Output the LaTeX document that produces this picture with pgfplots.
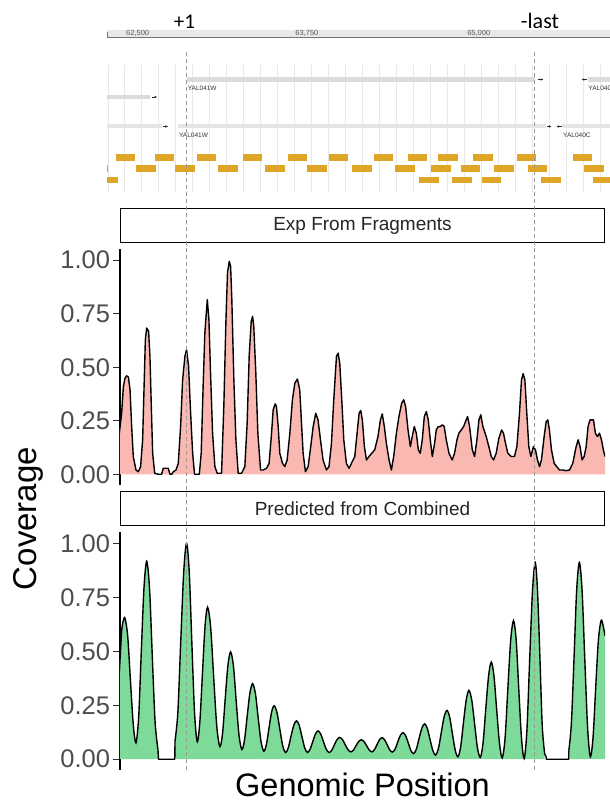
\documentclass[border=0pt]{standalone}
\usepackage{fontspec}
\setmainfont{Liberation Sans}
\newfontfamily\calibri{Carlito}
\usepackage{pgfplots}
\pgfplotsset{compat=1.18}
\usepackage{pgfplotstable}
\usetikzlibrary{arrows.meta}

\definecolor{pinkfill}{RGB}{250,184,179}
\definecolor{greenfill}{RGB}{125,218,152}
\definecolor{gold}{RGB}{222,165,38}
\definecolor{tickgray}{RGB}{77,77,77}

\pgfplotstableread{
x y
62335 0.192
62352 0.285
62365 0.410
62377 0.449
62389 0.460
62402 0.454
62414 0.395
62426 0.223
62438 0.083
62458 0.020
62475 0.012
62492 0.036
62507 0.161
62517 0.395
62527 0.629
62537 0.683
62551 0.668
62561 0.551
62571 0.317
62581 0.098
62596 0.005
62623 0.000
62647 0.000
62659 0.028
62696 0.028
62709 0.000
62721 0.000
62733 0.012
62753 0.020
62770 0.051
62787 0.223
62802 0.441
62819 0.551
62831 0.582
62846 0.504
62861 0.285
62876 0.098
62890 0.000
62910 0.000
62925 0.000
62939 0.098
62954 0.426
62966 0.660
62984 0.816
62996 0.722
63008 0.473
63023 0.192
63040 0.036
63057 0.005
63089 0.005
63106 0.317
63121 0.707
63133 0.941
63146 0.995
63156 0.972
63165 0.816
63180 0.441
63195 0.161
63212 0.005
63237 0.005
63261 0.036
63278 0.239
63293 0.551
63308 0.714
63318 0.738
63327 0.691
63342 0.473
63357 0.192
63377 0.020
63396 0.020
63421 0.028
63440 0.051
63458 0.192
63470 0.301
63485 0.329
63494 0.317
63507 0.223
63519 0.098
63539 0.051
63556 0.036
63573 0.067
63593 0.192
63612 0.348
63630 0.426
63649 0.445
63666 0.395
63679 0.239
63691 0.098
63708 0.012
63728 0.036
63747 0.129
63765 0.223
63784 0.285
63801 0.254
63819 0.161
63838 0.067
63863 0.020
63882 0.036
63900 0.145
63917 0.348
63937 0.551
63949 0.566
63961 0.520
63976 0.348
63991 0.161
64010 0.051
64030 0.028
64047 0.051
64072 0.083
64089 0.192
64104 0.285
64116 0.298
64128 0.254
64143 0.129
64158 0.067
64177 0.083
64197 0.098
64219 0.114
64243 0.176
64261 0.254
64275 0.282
64290 0.223
64305 0.145
64325 0.067
64342 0.020
64359 0.083
64379 0.192
64398 0.270
64418 0.332
64433 0.348
64447 0.317
64465 0.207
64482 0.129
64496 0.176
64511 0.223
64526 0.192
64541 0.114
64555 0.098
64570 0.161
64585 0.270
64600 0.293
64614 0.254
64629 0.161
64644 0.083
64661 0.145
64673 0.207
64688 0.223
64703 0.223
64718 0.231
64732 0.223
64747 0.161
64767 0.098
64791 0.067
64808 0.098
64826 0.161
64840 0.192
64858 0.207
64875 0.223
64889 0.246
64904 0.270
64919 0.223
64939 0.114
64956 0.083
64973 0.161
64988 0.254
65002 0.278
65017 0.223
65042 0.176
65061 0.129
65079 0.083
65096 0.067
65115 0.098
65135 0.168
65155 0.207
65169 0.192
65184 0.145
65201 0.098
65226 0.083
65250 0.083
65268 0.129
65287 0.285
65302 0.441
65314 0.470
65327 0.441
65341 0.285
65356 0.129
65371 0.083
65390 0.129
65405 0.114
65420 0.067
65435 0.036
65449 0.067
65469 0.176
65484 0.246
65496 0.254
65508 0.207
65523 0.114
65543 0.051
65562 0.036
65582 0.020
65607 0.020
65631 0.017
65656 0.020
65680 0.051
65705 0.129
65720 0.161
65734 0.129
65749 0.067
65764 0.083
65779 0.129
65793 0.223
65808 0.254
65833 0.254
65847 0.192
65862 0.176
65877 0.192
65892 0.161
65906 0.114
65918 0.083
}\pinkdata

\pgfplotstableread{
x y
62335 0.400
62352 0.590
62364 0.640
62377 0.653
62397 0.569
62417 0.365
62438 0.160
62458 0.076
62478 0.199
62497 0.497
62517 0.794
62537 0.917
62558 0.790
62578 0.481
62599 0.172
62620 0.045
}\greenA

\pgfplotstableread{
x y
62620 0.045
62624 0.000
62744 0.000
62746 0.085
}\flatA

\pgfplotstableread{
x y
62746 0.085
62767 0.219
62788 0.543
62810 0.866
62831 1.000
62851 0.866
62870 0.541
62890 0.215
62910 0.081
62929 0.172
62948 0.393
62967 0.613
62986 0.704
63009 0.610
63031 0.381
63054 0.152
63077 0.058
63097 0.122
63116 0.278
63136 0.433
63156 0.497
63177 0.431
63197 0.271
63218 0.111
63239 0.045
63259 0.090
63278 0.198
63298 0.305
63318 0.350
63339 0.304
63359 0.194
63380 0.083
63401 0.037
63420 0.068
63439 0.143
63458 0.217
63477 0.248
63498 0.216
63519 0.140
63540 0.063
63561 0.031
63581 0.052
63601 0.105
63622 0.157
63642 0.178
63662 0.157
63682 0.105
63703 0.052
63723 0.031
63742 0.046
63762 0.081
63781 0.116
63801 0.131
63821 0.116
63841 0.081
63862 0.046
63882 0.031
63902 0.041
63921 0.066
63941 0.091
63961 0.101
63981 0.091
64001 0.068
64022 0.044
64042 0.034
64062 0.042
64081 0.062
64101 0.082
64121 0.090
64140 0.082
64160 0.062
64179 0.042
64199 0.034
64217 0.044
64236 0.067
64254 0.090
64273 0.100
64292 0.090
64311 0.067
64330 0.043
64349 0.033
64369 0.046
64388 0.078
64408 0.110
64428 0.123
64447 0.109
64467 0.075
64486 0.040
64506 0.026
64526 0.046
64546 0.095
64567 0.144
64587 0.164
64607 0.143
64627 0.092
64648 0.040
64668 0.019
64689 0.049
64710 0.123
64731 0.196
64752 0.226
64772 0.195
64792 0.119
64813 0.042
64833 0.011
64853 0.056
64873 0.165
64894 0.274
64914 0.319
64935 0.274
64956 0.164
64977 0.053
64998 0.008
65018 0.073
65038 0.229
65059 0.385
65079 0.450
65099 0.385
65119 0.228
65140 0.071
65160 0.006
65181 0.099
65201 0.324
65222 0.549
65243 0.642
65263 0.549
65282 0.323
65302 0.096
65322 0.003
65342 0.136
65362 0.457
65383 0.778
65403 0.911
65420 0.782
65438 0.468
65455 0.154
65473 0.025
}\greenB

\pgfplotstableread{
x y
65473 0.025
65484 0.010
65485 0.000
65650 0.000
65651 0.040
}\flatB

\pgfplotstableread{
x y
65651 0.040
65670 0.167
65690 0.476
65709 0.784
65729 0.911
65749 0.780
65769 0.461
65790 0.142
65810 0.011
65830 0.103
65849 0.327
65869 0.550
65889 0.642
65904 0.620
65918 0.572
}\greenC

\pgfplotsset{
  panel/.style={
    scale only axis, width=485pt,
    xmin=62340, xmax=65918, ymin=-0.05, ymax=1.05,
    axis x line=none, axis y line*=left,
    axis line style={-, line width=1.3pt, black},
    xtick=\empty, ytick={0,0.25,0.5,0.75,1},
    scaled x ticks=false, scaled y ticks=false,
    /pgf/number format/assume math mode=true,
    yticklabel={\pgfmathprintnumber[fixed,fixed zerofill,precision=2]{\tick}},
    yticklabel style={font=\fontsize{25.5}{28}\selectfont, text=tickgray},
    tick align=outside, major tick length=6.5pt,
    ytick style={line width=1.1pt, draw=black!80},
    title style={at={(0.5,1)}, anchor=south, yshift=0pt, draw=black,
      line width=1.1pt, fill=white, minimum width=484pt, minimum height=34.5pt,
      inner sep=0pt, font=\fontsize{19}{22}\selectfont, text=black!85},
  },
  gene/.style={line width=5pt, color=black!14},
  fwd/.style={line width=0.5pt, black!85, -{Stealth[length=2.6pt,width=2.4pt]}},
}
\tikzset{lbl/.style={anchor=west, inner sep=0pt, font=\fontsize{6.5}{7}\selectfont, text=black!80}}

\begin{document}
\begin{tikzpicture}
\path[use as bounding box] (0,0) rectangle (610pt,804pt);

% ---------- genome browser track ----------
\begin{axis}[at={(107pt,612pt)}, anchor=south west, scale only axis,
  width=503pt, height=127pt, xmin=62244, xmax=65950, ymin=65, ymax=192,
  y dir=reverse, clip=false, axis line style={draw=none},
  scaled x ticks=false, scaled y ticks=false,
  ytick=\empty, xtick={62250,62375,...,65875}, xticklabels={},
  xtick style={draw=none}, xmajorgrids,
  major grid style={black!9, line width=0.6pt},
  extra x ticks={62500,63750,65000}, extra x tick labels={},
  extra x tick style={grid style={black!20, line width=0.7pt}},
  unbounded coords=jump]
% ruler
\addplot[line width=6.5pt, color=black!9] coordinates {(62244,33.5) (65950,33.5)};
\addplot[line width=0.8pt, color=black!55] coordinates {(62244,37.2) (65950,37.2)};
\addplot[line width=0.8pt, color=black!55] coordinates {(62247,32) (62247,37.2)};
\node[font=\fontsize{7.5}{8}\selectfont, text=black!65] at (axis cs:62470,33) {62,500};
\node[font=\fontsize{7.5}{8}\selectfont, text=black!65] at (axis cs:63717,33) {63,750};
\node[font=\fontsize{7.5}{8}\selectfont, text=black!65] at (axis cs:64983,33) {65,000};
\node[font=\calibri\fontsize{21}{24}\selectfont, anchor=base] at (axis cs:62815,28.3) {+1};
\node[font=\calibri\fontsize{22}{24}\selectfont, anchor=base] at (axis cs:65434,28.3) {-last};
% gene row 1
\addplot[gene] coordinates {(62835,79.5) (65400,79.5)};
\addplot[fwd] coordinates {(65418,79.5) (65458,79.5)};
\addplot[fwd] coordinates {(65782,79.5) (65742,79.5)};
\addplot[gene] coordinates {(65788,79.5) (65950,79.5)};
\node[lbl] at (axis cs:62838,88) {YAL041W};
\node[lbl] at (axis cs:65790,88) {YAL040C};
% gene row 2
\addplot[gene, line width=4.5pt] coordinates {(62244,97) (62561,97)};
\addplot[fwd] coordinates {(62576,97) (62612,97)};
% gene row 3
\addplot[gene, line width=4pt, color=black!10] coordinates {(62244,126.5) (62649,126.5)};
\addplot[fwd] coordinates {(62656,126.5) (62693,126.5)};
\addplot[gene, line width=4pt, color=black!10] coordinates {(62767,126.5) (65481,126.5)};
\addplot[fwd] coordinates {(65484,126.5) (65518,126.5)};
\addplot[fwd] coordinates {(65594,126.5) (65557,126.5)};
\addplot[gene, line width=4pt, color=black!10] coordinates {(65596,126.5) (65950,126.5)};
\node[lbl] at (axis cs:62774,135) {YAL041W};
\node[lbl] at (axis cs:65604,135) {YAL040C};
% fragments
\addplot[line width=6.7pt, color=gold] coordinates {
 (62308,157.7) (62450,157.7) (62450,nan)
 (62598,157.7) (62738,157.7) (62738,nan)
 (62905,157.7) (63047,157.7) (63047,nan)
 (63244,157.7) (63388,157.7) (63388,nan)
 (63575,157.7) (63720,157.7) (63720,nan)
 (63877,157.7) (64022,157.7) (64022,nan)
 (64211,157.7) (64353,157.7) (64353,nan)
 (64460,157.7) (64602,157.7) (64602,nan)
 (64685,157.7) (64832,157.7) (64832,nan)
 (64943,157.7) (65086,157.7) (65086,nan)
 (65263,157.7) (65405,157.7) (65405,nan)
 (65675,157.7) (65820,157.7)};
\addplot[line width=6.7pt, color=gold] coordinates {
 (62244,168.7) (62252,168.7) (62252,nan)
 (62455,168.7) (62603,168.7) (62603,nan)
 (62747,168.7) (62892,168.7) (62892,nan)
 (63064,168.7) (63211,168.7) (63211,nan)
 (63410,168.7) (63556,168.7) (63556,nan)
 (63720,168.7) (63867,168.7) (63867,nan)
 (64047,168.7) (64194,168.7) (64194,nan)
 (64368,168.7) (64513,168.7) (64513,nan)
 (64631,168.7) (64776,168.7) (64776,nan)
 (64850,168.7) (64992,168.7) (64992,nan)
 (65098,168.7) (65243,168.7) (65243,nan)
 (65344,168.7) (65484,168.7) (65484,nan)
 (65761,168.7) (65906,168.7)};
\addplot[line width=6.7pt, color=gold] coordinates {
 (62244,180) (62327,180) (62327,nan)
 (64543,180) (64688,180) (64688,nan)
 (64788,180) (64931,180) (64931,nan)
 (65005,180) (65147,180) (65147,nan)
 (65442,180) (65589,180) (65589,nan)
 (65823,180) (65950,180)};
\end{axis}

% ---------- panel 1 ----------
\begin{axis}[panel, at={(120pt,319pt)}, anchor=south west, height=235.5pt,
  title={Exp From Fragments}]
\addplot[fill=pinkfill, draw=none] table[x=x,y=y]{\pinkdata} \closedcycle;
\addplot[black, line width=1.4pt, line join=round] table[x=x,y=y]{\pinkdata};
\end{axis}

% ---------- panel 2 ----------
\begin{axis}[panel, at={(120pt,34pt)}, anchor=south west, height=237.5pt,
  axis x line*=bottom, title={Predicted from Combined}]
\addplot[fill=greenfill, draw=none, smooth] table[x=x,y=y]{\greenA} \closedcycle;
\addplot[fill=greenfill, draw=none, smooth] table[x=x,y=y]{\greenB} \closedcycle;
\addplot[fill=greenfill, draw=none, smooth] table[x=x,y=y]{\greenC} \closedcycle;
\addplot[black, line width=1.4pt, smooth] table[x=x,y=y]{\greenA};
\addplot[black, line width=1.4pt, line join=round] table[x=x,y=y]{\flatA};
\addplot[black, line width=1.4pt, smooth] table[x=x,y=y]{\greenB};
\addplot[black, line width=1.4pt, line join=round] table[x=x,y=y]{\flatB};
\addplot[black, line width=1.4pt, smooth] table[x=x,y=y]{\greenC};
\end{axis}

% ---------- dashed guide lines ----------
\begin{axis}[at={(120pt,34pt)}, anchor=south west, scale only axis,
  width=485pt, height=718pt, xmin=62340, xmax=65918, ymin=0, ymax=1,
  hide axis, clip=false]
\addplot[black!40, line width=0.9pt, dash pattern=on 4pt off 3pt] coordinates {(62832,0) (62832,1)};
\addplot[black!40, line width=0.9pt, dash pattern=on 4pt off 3pt] coordinates {(65401,0) (65401,1)};
\end{axis}

\node[rotate=90, anchor=base, font=\fontsize{33}{38}\selectfont] at (36.7pt,285.5pt) {Coverage};
\node[anchor=base, font=\fontsize{32.5}{38}\selectfont] at (362.5pt,7.3pt) {Genomic Position};
\end{tikzpicture}
\end{document}
